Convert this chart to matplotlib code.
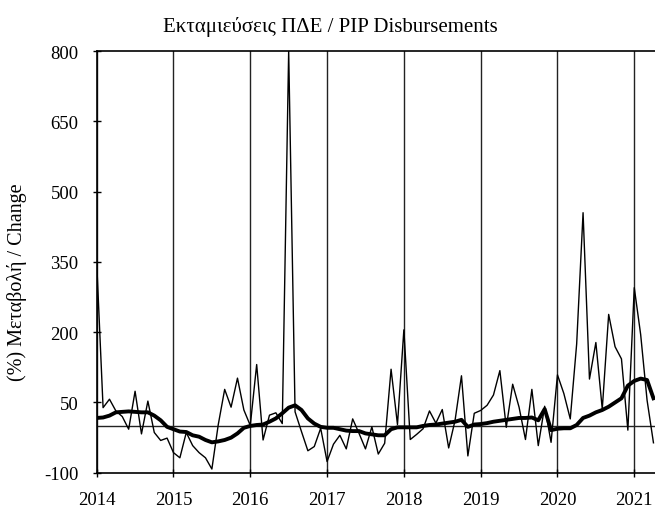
import matplotlib
matplotlib.use('Agg')
import matplotlib.pyplot as plt
import numpy as np

plt.rcParams['font.family'] = ['Liberation Serif', 'DejaVu Serif']
plt.rcParams['axes.unicode_minus'] = False

# monthly % change, Jan 2014 - Apr 2021
monthly = [350, 39, 57, 32, 20, -7, 74, -17, 53, -14, -31, -26,
           -57, -68, -14, -42, -57, -68, -92, 3, 78, 40, 102, 34,
           1, 131, -30, 23, 28, 5, 800, 30, -12, -53, -44, -5,
           -76, -39, -20, -49, 15, -16, -49, -2, -60, -37, 121, 3,
           205, -29, -18, -6, 32, 6, 35, -47, 12, 107, -64, 27,
           33, 44, 66, 118, -3, 89, 40, -29, 78, -42, 42, -35,
           109, 69, 15, 175, 455, 100, 178, 36, 238, 169, 143, -9,
           295, 195, 55, -36]
# moving average
smoothed = [17, 18, 22, 29, 30, 31, 30, 29, 29, 22, 12, -2,
            -7, -12, -13, -20, -23, -30, -35, -33, -30, -25, -16, -4,
            0, 2, 3, 9, 16, 27, 39, 44, 34, 16, 5, -2,
            -4, -4, -7, -10, -11, -11, -16, -18, -20, -20, -7, -3,
            -3, -3, -3, 0, 2, 3, 5, 7, 9, 13, -2, 3,
            4, 6, 9, 11, 13, 15, 17, 17, 18, 12, 36, -9,
            -6, -5, -5, 2, 17, 22, 29, 34, 41, 50, 59, 86,
            96, 101, 98, 59]
years = [2014, 2015, 2016, 2017, 2018, 2019, 2020, 2021]
yticks = [-100, 50, 200, 350, 500, 650, 800]

x = years[0] + np.arange(len(monthly)) / 12

fig = plt.figure(figsize=(6.55, 5.1), dpi=100)
ax = fig.add_axes([0.1476, 0.071, 0.8524, 0.827])

for yr in years:
    ax.axvline(yr, color='#222222', linewidth=1.0, zorder=1)
ax.axhline(0, color='#222222', linewidth=1.0, zorder=1)

ax.plot(x, monthly, color='black', linewidth=1.0, zorder=2)
ax.plot(x, smoothed, color='black', linewidth=2.8, zorder=3)

ax.set_xlim(years[0], x[-1] + 0.02)
ax.set_ylim(-100, 800)
ax.set_xticks(years)
ax.set_xticklabels([str(y) for y in years])
ax.set_yticks(yticks)
ax.tick_params(axis='both', direction='inout', length=6, width=1.0,
               labelsize=13.5, colors='black')
ax.tick_params(axis='x', pad=10)
ax.tick_params(axis='y', pad=10)
ax.spines['right'].set_visible(False)
for s in ['left', 'top', 'bottom']:
    ax.spines[s].set_linewidth(1.2)

ax.set_ylabel('(%) Μεταβολή / Change', fontsize=14.5)
ax.yaxis.set_label_coords(-0.125, 0.455)
fig.text(0.505, 0.947, 'Εκταμιεύσεις ΠΔΕ / PIP Disbursements',
         ha='center', va='center', fontsize=15)

fig.savefig('out.png', dpi=100)
